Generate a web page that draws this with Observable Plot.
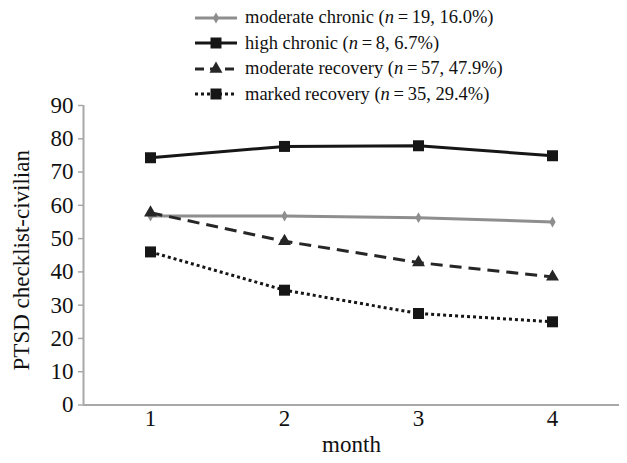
<!DOCTYPE html>
<html>
<head>
<meta charset="utf-8">
<script src="https://cdn.jsdelivr.net/npm/d3@7"></script>
<script src="https://cdn.jsdelivr.net/npm/@observablehq/plot@0.6"></script>
<style>
  html, body { margin: 0; padding: 0; background: #fff; }
  #wrap { position: relative; width: 627px; height: 463px; font-family: "Liberation Serif", serif; }
  #legend { position: absolute; left: 195px; top: 5px; font-size: 18.5px; color: #111; font-family: "Liberation Serif", serif; }
  .row { height: 25.5px; display: flex; align-items: center; white-space: nowrap; }
  .row span { font-family: "Liberation Serif", serif; }
  .row svg { margin-right: 8px; }
</style>
</head>
<body>
<div id="wrap"><div id="legend"></div></div>
<script>
// ---- data ----
const months = [1, 2, 3, 4];
const seriesNames = ["moderate chronic", "high chronic", "moderate recovery", "marked recovery"];
const seriesN = [19, 8, 57, 35];
const seriesPct = ["16.0%", "6.7%", "47.9%", "29.4%"];
const moderateChronic = [56.8, 56.8, 56.3, 55.0];
const highChronic = [74.3, 77.7, 77.9, 74.9];
const moderateRecovery = [57.8, 49.2, 42.8, 38.5];
const markedRecovery = [46.0, 34.5, 27.5, 25.0];
const yTicks = [0, 10, 20, 30, 40, 50, 60, 70, 80, 90];
const xTitle = "month";
const yTitle = "PTSD checklist-civilian";

// ---- styles (not data) ----
const FONT = "'Liberation Serif', serif";
const styles = [
  {stroke: "#8e8e8e", dash: null, legendDash: null, symbol: "diamond", r: 3.3},
  {stroke: "#161616", dash: null, legendDash: null, symbol: "square", r: 6.2},
  {stroke: "#262626", dash: "12,7", legendDash: "9,6", symbol: "triangle", r: 4.8},
  {stroke: "#161616", dash: "3,3", legendDash: "3,3", symbol: "square", r: 6.2}
];

const seriesValues = [moderateChronic, highChronic, moderateRecovery, markedRecovery];
const rows = seriesValues.map((vals, i) => months.map((m, j) => ({series: seriesNames[i], month: m, value: vals[j]})));

const marks = [
  Plot.ruleX([0.5], {y1: 0, y2: 90, stroke: "#a8a8a8", strokeWidth: 2}),
  Plot.ruleY([0], {x1: 0.5, x2: 4.5, stroke: "#a8a8a8", strokeWidth: 2}),
  Plot.axisY({ticks: yTicks, tickSize: 5, stroke: "#a8a8a8", strokeWidth: 1.5, fill: "none", label: null}),
  Plot.text(yTicks, {y: d => d, frameAnchor: "left", dx: -10, textAnchor: "end", text: d => String(d), fontSize: 23, fill: "#111", fontFamily: FONT}),
  Plot.text(months, {x: d => d, frameAnchor: "bottom", dy: 20.5, text: d => String(d), fontSize: 23, fill: "#111", fontFamily: FONT}),
  Plot.text([xTitle], {x: 2.5, frameAnchor: "bottom", dy: 47, text: d => d, fontSize: 23, fill: "#111", fontFamily: FONT}),
  Plot.text([yTitle], {frameAnchor: "left", dx: -62, y: 43.5, rotate: -90, textAnchor: "middle", text: d => d, fontSize: 23, fill: "#111", fontFamily: FONT})
];
rows.forEach((data, i) => {
  const s = styles[i];
  marks.push(Plot.line(data, {x: "month", y: "value", stroke: s.stroke, strokeWidth: 3,
    strokeDasharray: s.dash || undefined, strokeLinecap: s.dash ? "butt" : "round"}));
  marks.push(Plot.dot(data, {x: "month", y: "value", symbol: () => s.symbol, r: s.r, fill: s.stroke, stroke: "none"}));
});

const plot = Plot.plot({
  width: 627, height: 463,
  marginLeft: 83, marginRight: 8, marginTop: 105, marginBottom: 58.5,
  style: {fontFamily: FONT, fontSize: "23px", color: "#111", background: "transparent"},
  x: {domain: [0.5, 4.5], axis: null},
  y: {domain: [0, 90], axis: null},
  symbol: {type: "identity"},
  marks
});
document.getElementById("wrap").prepend(plot);

// ---- legend ----
const legend = d3.select("#legend");
seriesNames.forEach((name, i) => {
  const s = styles[i];
  const row = legend.append("div").attr("class", "row");
  const svg = row.append("svg").attr("width", 42).attr("height", 20);
  svg.append("line").attr("x1", 0).attr("x2", 42).attr("y1", 10).attr("y2", 10)
    .attr("stroke", s.stroke).attr("stroke-width", 3).attr("stroke-linecap", "butt")
    .attr("stroke-dasharray", s.legendDash);
  const sym = {diamond: d3.symbolDiamond, square: d3.symbolSquare, triangle: d3.symbolTriangle}[s.symbol];
  svg.append("path").attr("transform", "translate(21,10)")
    .attr("d", d3.symbol(sym, Math.PI * s.r * s.r)()).attr("fill", s.stroke);
  row.append("span").html(`${name} (<i>n</i>\u2009=\u2009${seriesN[i]}, ${seriesPct[i]})`);
});
</script>
</body>
</html>
